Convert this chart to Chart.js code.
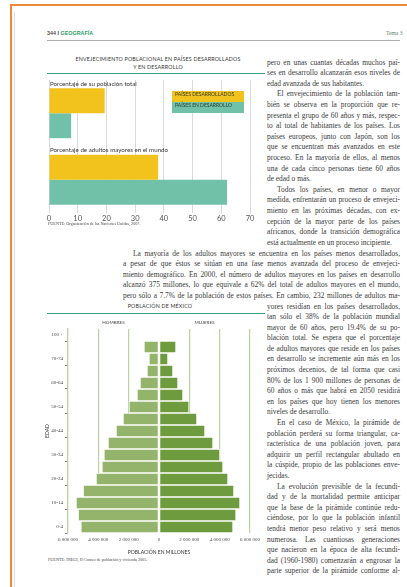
<!DOCTYPE html>
<html lang="es">
<head>
<meta charset="utf-8">
<title>Envejecimiento poblacional</title>
<script src="https://cdn.jsdelivr.net/npm/chart.js@4.4.1/dist/chart.umd.min.js"></script>
<style>
  html, body { margin: 0; padding: 0; background: #fff; }
  body { width: 407px; height: 587px; position: relative; overflow: hidden; color: #3d3d3d; }
  .abs { position: absolute; }
  .frame-top { left: 10px; top: 4px; width: 397px; height: 2px; background: #f0883a; }
  .frame-left { left: 10px; top: 4px; width: 2px; height: 583px; background: #f0883a; }
  .edge { left: 14px; top: 12px; width: 1px; height: 575px; background: #dcdcdc; }
  .head { top: 30px; font: bold 5.4px "Liberation Sans", sans-serif; color: #555; }
  .head span { color: #2f9c6a; }
  .tema { top: 30px; left: 386px; font: 5.6px "Liberation Serif", serif; color: #5c7f6a; }
  .hrule { left: 47px; top: 39.5px; width: 353px; height: 1.5px; background: #b0b0b0; }
  .ctitle { font: 5.3px Lato, sans-serif; letter-spacing: 0.2px; color: #333; text-align: center; line-height: 8px; }
  .trule { height: 1px; background: #3a9e86; }
  .src { font: 4.2px "Liberation Serif", serif; color: #444; white-space: nowrap; }
  .legend div { height: 11px; line-height: 11px; padding-left: 3px; font: 5px Lato, sans-serif; color: #2d3b2d; white-space: nowrap; }
  .txt { font: 7.4px "Liberation Serif", serif; color: #3a3a3a; }
  .txt div { height: 10.6px; line-height: 10.6px; white-space: nowrap; text-align: justify; text-align-last: justify; }
  .txt div.end { text-align-last: left; }
  .txt div.ind { text-indent: 10px; }
  canvas { position: absolute; }
</style>
</head>
<body>
<div class="abs frame-top"></div>
<div class="abs frame-left"></div>
<div class="abs edge"></div>

<div class="abs head" style="left:47px">344 I <span>GEOGRAFÍA</span></div>
<div class="abs tema">Tema 3</div>
<div class="abs hrule"></div>

<!-- grafica 1 -->
<div class="abs ctitle" style="left:47px; top:55px; width:222px">ENVEJECIMIENTO POBLACIONAL EN PAÍSES DESARROLLADOS<br>Y EN DESARROLLO</div>
<div class="abs trule" style="left:47px; top:72.5px; width:218px"></div>
<canvas id="agingChart" width="222" height="150" style="left:40px; top:74px"></canvas>
<div class="abs legend" id="agingLegend" style="left:172px; top:91px; width:72px"></div>
<div class="abs src" style="left:48px; top:221px">FUENTE: Organización de las Naciones Unidas, 2007.</div>

<!-- grafica 2 -->
<div class="abs ctitle" style="left:60px; top:302px; width:200px">POBLACIÓN DE MÉXICO</div>
<div class="abs trule" style="left:47px; top:313px; width:218px"></div>
<canvas id="pyramidChart" width="226" height="237" style="left:40px; top:318px"></canvas>
<div class="abs src" style="left:48px; top:557px">FUENTE: INEGI, II Conteo de población y vivienda 2005.</div>

<!-- texto -->
<div class="abs txt" style="left:267px; top:57.7px; width:133px">
  <div>pero en unas cuantas décadas muchos paí-</div>
  <div>ses en desarrollo alcanzarán esos niveles de</div>
  <div class="end">edad avanzada de sus habitantes.</div>
  <div class="ind">El envejecimiento de la población tam-</div>
  <div>bién se observa en la proporción que re-</div>
  <div>presenta el grupo de 60 años y más, respec-</div>
  <div>to al total de habitantes de los países. Los</div>
  <div>países europeos, junto con Japón, son los</div>
  <div>que se encuentran más avanzados en este</div>
  <div>proceso. En la mayoría de ellos, al menos</div>
  <div>una de cada cinco personas tiene 60 años</div>
  <div class="end">de edad o más.</div>
  <div class="ind">Todos los países, en menor o mayor</div>
  <div>medida, enfrentarán un proceso de envejeci-</div>
  <div>miento en las próximas décadas, con ex-</div>
  <div>cepción de la mayor parte de los países</div>
  <div>africanos, donde la transición demográfica</div>
  <div class="end">está actualmente en un proceso incipiente.</div>
</div>
<div class="abs txt" style="left:123px; top:248.5px; width:277px">
  <div class="ind">La mayoría de los adultos mayores se encuentra en los países menos desarrollados,</div>
  <div>a pesar de que éstos se sitúan en una fase menos avanzada del proceso de envejeci-</div>
  <div>miento demográfico. En 2000, el número de adultos mayores en los países en desarrollo</div>
  <div>alcanzó 375 millones, lo que equivale a 62% del total de adultos mayores en el mundo,</div>
  <div>pero sólo a 7.7% de la población de estos países. En cambio, 232 millones de adultos ma-</div>
</div>
<div class="abs txt" style="left:267px; top:301.5px; width:133px">
  <div>yores residían en los países desarrollados,</div>
  <div>tan sólo el 38% de la población mundial</div>
  <div>mayor de 60 años, pero 19.4% de su po-</div>
  <div>blación total. Se espera que el porcentaje</div>
  <div>de adultos mayores que reside en los países</div>
  <div>en desarrollo se incremente aún más en los</div>
  <div>próximos decenios, de tal forma que casi</div>
  <div>80% de los 1 900 millones de personas de</div>
  <div>60 años o más que habrá en 2050 residirá</div>
  <div>en los países que hoy tienen los menores</div>
  <div class="end">niveles de desarrollo.</div>
  <div class="ind">En el caso de México, la pirámide de</div>
  <div>población perderá su forma triangular, ca-</div>
  <div>racterística de una población joven, para</div>
  <div>adquirir un perfil rectangular abultado en</div>
  <div>la cúspide, propio de las poblaciones enve-</div>
  <div class="end">jecidas.</div>
  <div class="ind">La evolución previsible de la fecundi-</div>
  <div>dad y de la mortalidad permite anticipar</div>
  <div>que la base de la pirámide continúe redu-</div>
  <div>ciéndose, por lo que la población infantil</div>
  <div>tendrá menor peso relativo y será menos</div>
  <div>numerosa. Las cuantiosas generaciones</div>
  <div>que nacieron en la época de alta fecundi-</div>
  <div>dad (1960-1980) comenzarán a engrosar la</div>
  <div>parte superior de la pirámide conforme al-</div>
</div>

<script>
// grafica 1: envejecimiento poblacional (porcentajes)
const groups = ['Porcentaje de su población total', 'Porcentaje de adultos mayores en el mundo'];
const seriesNames = ['PAÍSES DESARROLLADOS', 'PAÍSES EN DESARROLLO'];
const desarrollados = [19.4, 38];
const enDesarrollo = [7.7, 62];

// grafica 2: piramide de poblacion de Mexico, 2005
const ageGroups = ['0-4', '5-9', '10-14', '15-19', '20-24', '25-29', '30-34', '35-39', '40-44',
  '45-49', '50-54', '55-59', '60-64', '65-69', '70-74', '75-99', '100 +'];
const hombres = [5150000, 5330000, 5470000, 5000000, 4150000, 3760000, 3630000, 3360000, 2830000,
  2370000, 1980000, 1450000, 1250000, 790000, 660000, 990000, null];
const mujeres = [4880000, 5080000, 5340000, 4940000, 4550000, 4220000, 4020000, 3560000, 3030000,
  2500000, 1980000, 1580000, 1250000, 920000, 590000, 1120000, null];

const yellow = '#f1c31c';
const teal = '#70c1a8';
const menColor = '#93b46a';
const womenColor = '#6e9b3d';
const gridGreen = '#bdd0a0';

// legend boxes (text sits on the series colour)
const legendEl = document.getElementById('agingLegend');
[yellow, teal].forEach((c, i) => {
  const d = document.createElement('div');
  d.style.background = c;
  d.textContent = seriesNames[i];
  legendEl.appendChild(d);
});

// draws each group name just above its bars
const groupLabels = {
  id: 'groupLabels',
  afterDatasetsDraw(chart) {
    const ctx = chart.ctx;
    const meta = chart.getDatasetMeta(0);
    ctx.save();
    ctx.font = '6.2px Lato, sans-serif';
    ctx.fillStyle = '#333';
    ctx.textBaseline = 'bottom';
    meta.data.forEach((bar, i) => {
      ctx.fillText(chart.data.labels[i], chart.chartArea.left + 1, bar.y - bar.height / 2 - 1.5);
    });
    ctx.restore();
  }
};

new Chart(document.getElementById('agingChart'), {
  type: 'bar',
  data: {
    labels: groups,
    datasets: [
      { label: seriesNames[0], data: desarrollados, backgroundColor: yellow },
      { label: seriesNames[1], data: enDesarrollo, backgroundColor: teal }
    ]
  },
  options: {
    indexAxis: 'y',
    responsive: false,
    animation: false,
    layout: { padding: { top: 6, right: 12, left: 9, bottom: 0 } },
    datasets: { bar: { categoryPercentage: 0.75, barPercentage: 1 } },
    plugins: { legend: { display: false }, tooltip: { enabled: false } },
    scales: {
      x: {
        min: 0,
        max: 70,
        ticks: { stepSize: 10, color: '#555', padding: 1, font: { family: 'Lato', size: 7.5 } },
        grid: { color: '#dadada', drawTicks: false },
        border: { display: false }
      },
      y: { display: false }
    }
  },
  plugins: [groupLabels]
});

function spaced(v) {
  return Math.abs(v).toString().replace(/\B(?=(\d{3})+(?!\d))/g, ' ');
}

// HOMBRES / MUJERES over each half
const sexLabels = {
  id: 'sexLabels',
  afterDraw(chart) {
    const { ctx, chartArea, scales } = chart;
    ctx.save();
    ctx.font = '4.6px Lato, sans-serif';
    ctx.fillStyle = '#444';
    ctx.textAlign = 'center';
    ctx.textBaseline = 'middle';
    ctx.fillText('HOMBRES', scales.x.getPixelForValue(-3000000), chartArea.top - 6);
    ctx.fillText('MUJERES', scales.x.getPixelForValue(3000000), chartArea.top - 6);
    ctx.restore();
  }
};

new Chart(document.getElementById('pyramidChart'), {
  type: 'bar',
  data: {
    labels: ageGroups,
    datasets: [
      { label: 'Hombres', data: hombres.map(v => v === null ? null : -v), backgroundColor: menColor },
      { label: 'Mujeres', data: mujeres, backgroundColor: womenColor }
    ]
  },
  options: {
    indexAxis: 'y',
    responsive: false,
    animation: false,
    layout: { padding: { top: 11, right: 16, left: 0, bottom: 0 } },
    datasets: {
      bar: { categoryPercentage: 1, barPercentage: 1, borderColor: '#fff', borderWidth: 1, borderSkipped: false }
    },
    plugins: { legend: { display: false }, tooltip: { enabled: false } },
    scales: {
      x: {
        stacked: true,
        min: -6000000,
        max: 6000000,
        ticks: {
          stepSize: 2000000,
          color: '#444',
          padding: 4,
          font: { family: 'Liberation Serif', size: 5 },
          callback: v => spaced(v)
        },
        grid: {
          color: ctx => ctx.tick && ctx.tick.value === 0 ? 'rgba(0,0,0,0)' : gridGreen,
          lineWidth: 1.2,
          drawTicks: false
        },
        border: { display: false },
        title: {
          display: true,
          text: 'POBLACIÓN EN MILLONES',
          color: '#333',
          font: { family: 'Lato', size: 5 },
          padding: { top: 2, bottom: 0 }
        }
      },
      y: {
        stacked: true,
        reverse: true,
        ticks: {
          autoSkip: false,
          color: '#444',
          padding: 2,
          font: { family: 'Liberation Serif', size: 5 },
          callback: (v, i) => i % 2 === 0 ? ageGroups[i] : ''
        },
        grid: {
          drawOnChartArea: false,
          tickLength: 3,
          tickColor: ctx => ctx.index % 2 === 0 ? '#777' : 'rgba(0,0,0,0)'
        },
        border: { color: gridGreen, width: 1.2 },
        title: {
          display: true,
          text: 'EDAD',
          color: '#333',
          font: { family: 'Lato', size: 5 }
        },
        afterFit: scale => { scale.width = 28; }
      }
    }
  },
  plugins: [sexLabels]
});
</script>
</body>
</html>
